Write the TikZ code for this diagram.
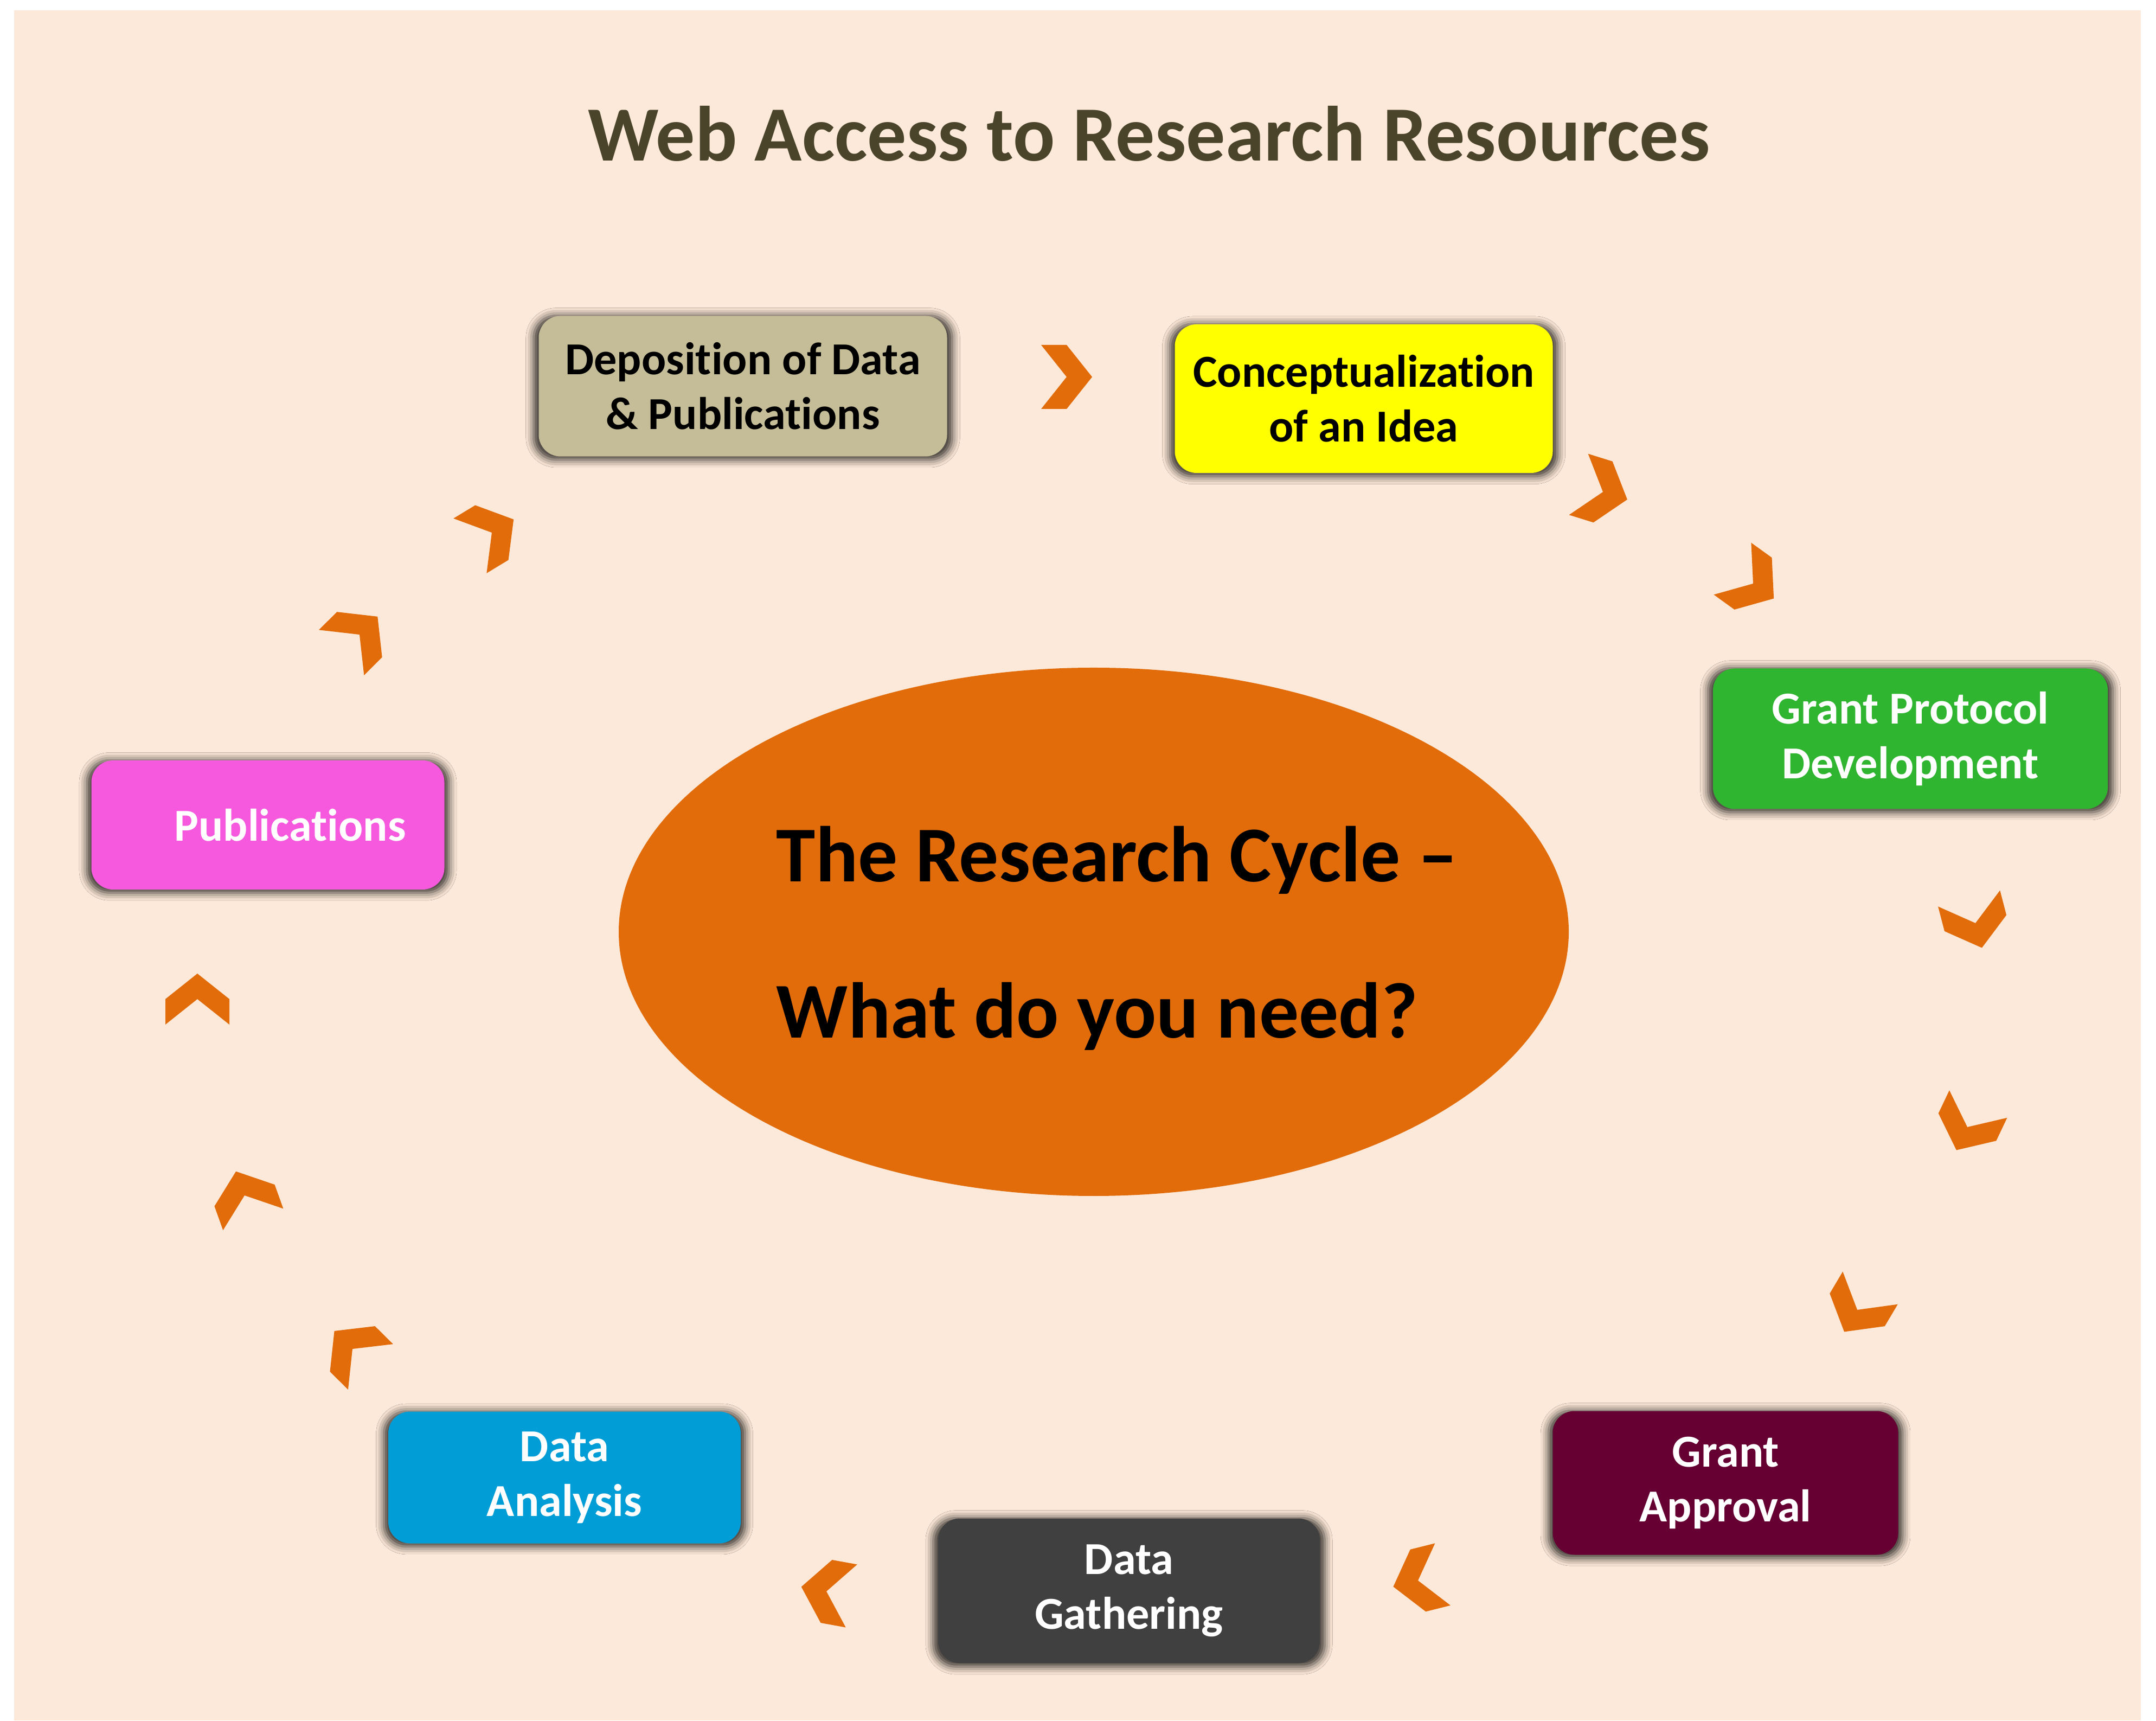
\documentclass[tikz,border=0pt]{standalone}
\usepackage{fontspec}
\setmainfont{Carlito}[Ligatures={NoCommon,NoRare,NoContextual}, Contextuals=NoAlternate]
\usepackage{tikz}
\usetikzlibrary{shapes.geometric}
\usetikzlibrary{shadows.blur}
\definecolor{peach}{RGB}{253,233,217}
\definecolor{olivetext}{RGB}{74,69,42}
\definecolor{burnt}{RGB}{227,108,10}
\definecolor{sand}{RGB}{196,189,151}
\definecolor{lemon}{RGB}{255,255,0}
\definecolor{leaf}{RGB}{47,181,47}
\definecolor{wine}{RGB}{102,0,51}
\definecolor{charcoal}{RGB}{64,64,64}
\definecolor{sky}{RGB}{0,157,214}
\definecolor{orchid}{RGB}{247,89,222}

\tikzset{
    stagebox/.style={rounded corners=0.4cm, inner sep=0pt, align=center,
        font=\fontsize{24}{28.7}\selectfont\bfseries,
        blur shadow={shadow xshift=0pt, shadow yshift=-0.8pt, shadow scale=1.025, shadow blur radius=4pt, shadow opacity=80}},
    cyclemark/.pic={\fill[burnt] (-0.47,0.59) -- (0,0.59) -- (0.47,0) -- (0,-0.59) -- (-0.47,-0.59) -- (0,0) -- cycle;}
}

\begin{document}
\begin{tikzpicture}

                \useasboundingbox (0, 0) rectangle (39.76, 31.72);
                \fill[white] (0, 0) rectangle (39.76, 31.72);
                \fill[peach] (0.26, 0) rectangle (39.48, 31.53);

                \node[anchor=base, text=olivetext, font=\fontsize{41}{49}\selectfont\bfseries] (title) at (21.19, 28.75) {Web Access to Research Resources};

                \node[ellipse, fill=burnt, inner sep=0pt, minimum width=17.52cm, minimum height=9.74cm] (cycle) at (20.17, 14.54) {};
                \node[align=left, inner sep=0pt, font=\fontsize{41.5}{82}\selectfont\bfseries] (question) at (20.60, 14.42) {The Research Cycle --\\What do you need?};

                \node[stagebox, fill=sand, minimum width=7.53cm, minimum height=2.59cm] (deposit) at (13.70, 24.60) {Deposition of Data\\\& Publications};
                \node[stagebox, fill=lemon, minimum width=6.97cm, minimum height=2.74cm] (idea) at (25.15, 24.37) {Conceptualization\\of an Idea};
                \node[stagebox, fill=leaf, text=white, minimum width=7.28cm, minimum height=2.59cm] (protocol) at (35.23, 18.10) {Grant Protocol\\Development};
                \node[stagebox, fill=wine, text=white, minimum width=6.37cm, minimum height=2.65cm] (approval) at (31.82, 4.38) {Grant\\Approval};
                \node[stagebox, fill=charcoal, text=white, minimum width=7.04cm, minimum height=2.67cm] (gathering) at (20.82, 2.39) {Data\\Gathering};
                \node[stagebox, fill=sky, text=white, minimum width=6.50cm, minimum height=2.43cm] (analysis) at (10.41, 4.48) {Data\\Analysis};
                \node[stagebox, fill=orchid, text=white, text width=5.09cm, inner xsep=0.71cm, align=right, minimum height=2.38cm] (pubs) at (4.94, 16.51) {Publications};

                \pic[rotate=0] at (19.67, 24.77) {cyclemark};
                \pic[rotate=-17.3] at (29.56, 22.65) {cyclemark};
                \pic[rotate=-35.8] at (32.33, 20.96) {cyclemark};
                \pic[rotate=-75.4] at (36.43, 14.70) {cyclemark};
                \pic[rotate=-115.4] at (36.28, 10.94) {cyclemark};
                \pic[rotate=-120.7] at (34.25, 7.57) {cyclemark};
                \pic[rotate=-166] at (26.15, 2.58) {cyclemark};
                \pic[rotate=169.7] at (15.24, 2.38) {cyclemark};
                \pic[rotate=135.3] at (6.50, 6.85) {cyclemark};
                \pic[rotate=109.7] at (4.51, 9.68) {cyclemark};
                \pic[rotate=90] at (3.64, 13.30) {cyclemark};
                \pic[rotate=44.9] at (6.63, 20.02) {cyclemark};
                \pic[rotate=31.2] at (9.07, 21.90) {cyclemark};

\end{tikzpicture}
\end{document}
